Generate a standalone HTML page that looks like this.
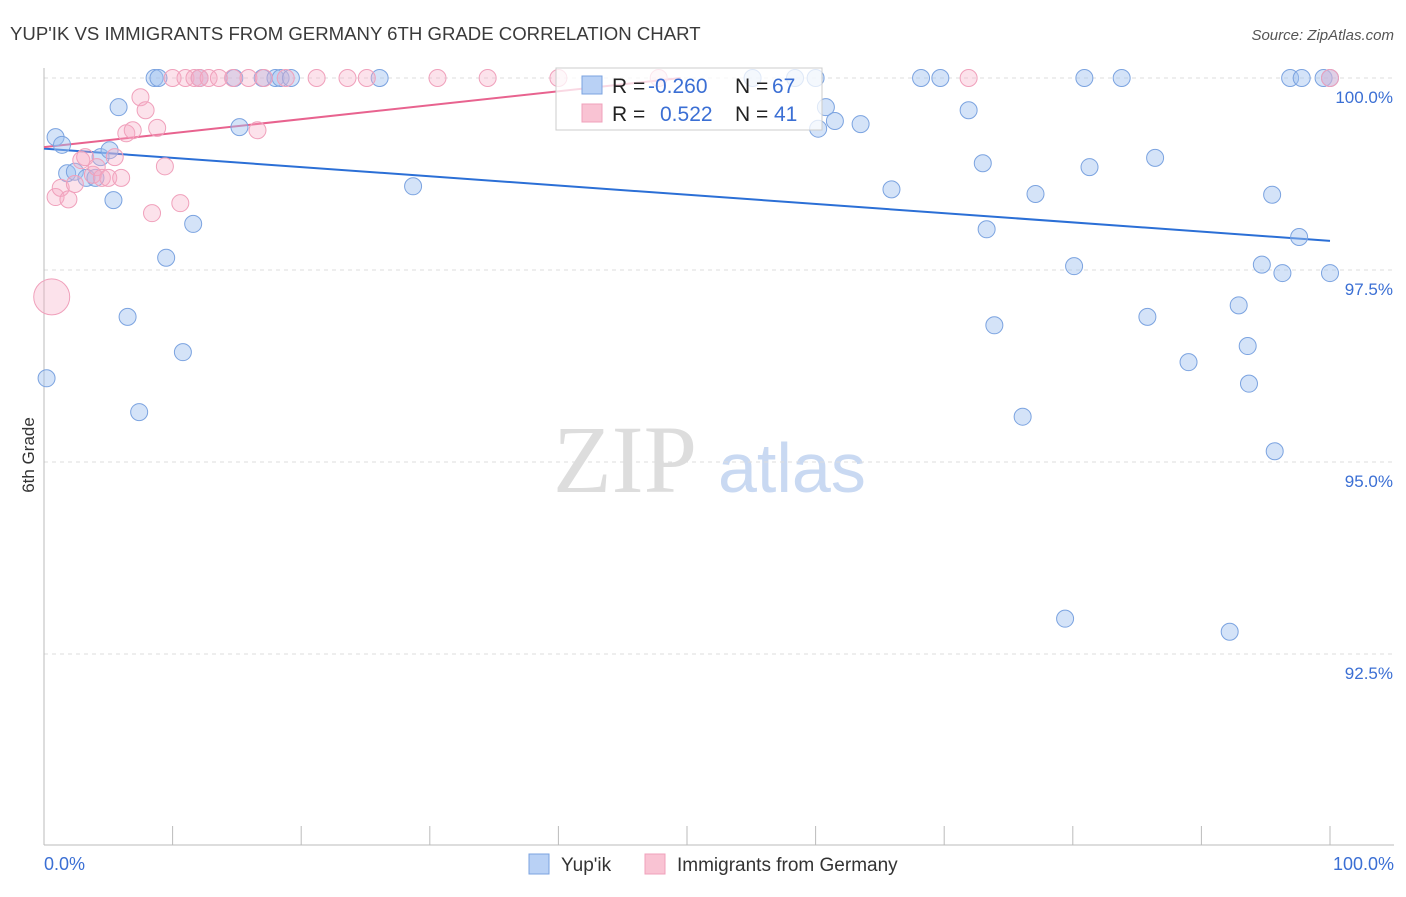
<!DOCTYPE html>
<html><head><meta charset="utf-8"><style>
body{margin:0;background:#fff;font-family:"Liberation Sans",sans-serif;}
svg text{font-family:"Liberation Sans",sans-serif;}
</style></head><body>
<svg id="chart" width="1406" height="892">
<text x="10" y="40" font-size="18.6" fill="#3a3a3a">YUP'IK VS IMMIGRANTS FROM GERMANY 6TH GRADE CORRELATION CHART</text>
<text x="1394" y="40" font-size="15" fill="#555" text-anchor="end" font-style="italic">Source: ZipAtlas.com</text>
<g>
<text x="553" y="492" font-size="96" fill="#ddd" style="font-family:'Liberation Serif',serif">ZIP</text>
<text x="718" y="492" font-size="70" fill="#c9d9f2">atlas</text>
</g>
<text x="34" y="455" font-size="17" fill="#333" text-anchor="middle" transform="rotate(-90 34 455)">6th Grade</text>
<g id="grid"></g><g id="axes"></g><g id="lines"></g><g id="dots"></g>
<g>
<rect x="556" y="68" width="266" height="62" fill="rgba(255,255,255,0.75)" stroke="#ccc"/>
<rect x="582" y="76" width="20" height="18" fill="#b9d1f5" stroke="#7ba3e0"/>
<rect x="582" y="104" width="20" height="18" fill="#f9c3d3" stroke="#f0a0bb"/>
<text x="612" y="93" font-size="21" fill="#222">R = <tspan x="648" fill="#3b6fd4">-0.260</tspan><tspan x="735">N = </tspan><tspan x="772" fill="#3b6fd4">67</tspan></text>
<text x="612" y="121" font-size="21" fill="#222">R = <tspan x="660" fill="#3b6fd4">0.522</tspan><tspan x="735">N = </tspan><tspan x="774" fill="#3b6fd4">41</tspan></text>
</g>
<g>
<rect x="529" y="854" width="20" height="20" fill="#b9d1f5" stroke="#7ba3e0"/>
<text x="561" y="871" font-size="19" fill="#333">Yup'ik</text>
<rect x="645" y="854" width="20" height="20" fill="#f9c3d3" stroke="#f0a0bb"/>
<text x="677" y="871" font-size="19" fill="#333">Immigrants from Germany</text>
</g>
</svg>
<script>
const yTicks=[100,97.5,95,92.5];
const yTickLabels=["100.0%","97.5%","95.0%","92.5%"];
const xTickVals=[0,10,20,30,40,50,60,70,80,90,100];
const blueX=[0.2,0.9,1.4,1.8,2.4,3.3,4.0,4.4,5.1,5.4,5.8,6.5,7.4,8.6,8.9,9.5,10.8,11.6,12.1,14.8,15.2,17.0,18.0,18.4,19.2,26.1,28.7,55.1,58.4,60.0,60.2,60.8,61.5,63.5,65.9,68.2,69.7,71.9,73.0,73.3,73.9,76.1,77.1,79.4,80.1,80.9,81.3,83.8,85.8,86.4,89.0,92.2,92.9,93.6,93.7,94.7,95.5,95.7,96.3,96.9,97.6,97.8,99.5,100,100];
const blueY=[96.09,99.23,99.13,98.76,98.78,98.70,98.70,98.97,99.06,98.41,99.62,96.89,95.65,100,100,97.66,96.43,98.10,100,100,99.36,100,100,100,100,100,98.59,100,100,100,99.34,99.62,99.44,99.40,98.55,100,100,99.58,98.89,98.03,96.78,95.59,98.49,92.96,97.55,100,98.84,100,96.89,98.96,96.30,92.79,97.04,96.51,96.02,97.57,98.48,95.14,97.46,100,97.93,100,100,97.46,100];
const pinkX=[0.6,0.9,1.3,1.9,2.4,2.9,3.2,3.8,4.1,4.5,5.0,5.5,6.0,6.4,6.9,7.5,7.9,8.4,8.8,9.4,10.0,10.6,11.0,11.7,12.1,12.8,13.6,14.7,15.9,16.6,17.1,18.8,21.2,23.6,25.1,30.6,34.5,40.0,47.8,71.9,100];
const pinkY=[97.15,98.45,98.57,98.42,98.62,98.93,98.97,98.74,98.84,98.70,98.70,98.97,98.70,99.28,99.32,99.75,99.58,98.24,99.35,98.85,100,98.37,100,100,100,100,100,100,100,99.32,100,100,100,100,100,100,100,100,100,100,100];
const pinkR=[18];
const blueTrend=[[0,99.08],[100,97.88]];
const pinkTrend=[[0,99.10],[49.5,100]];
const NS="http://www.w3.org/2000/svg";
const X=v=>44+v*12.86, Y=v=>78+(100-v)*76.8;
function mk(tag,attrs,parent){const e=document.createElementNS(NS,tag);for(const k in attrs)e.setAttribute(k,attrs[k]);document.getElementById(parent).appendChild(e);return e;}
yTicks.forEach((t,i)=>{
 const l=mk('line',{x1:44,x2:1394,y1:Y(t),y2:Y(t),stroke:'#ddd','stroke-dasharray':'4,4'},'grid');
 
 
 const tx=mk('text',{x:1393,y:Y(t)+25,'font-size':17,fill:'#3b6fd4','text-anchor':'end'},'grid');
 tx.textContent=yTickLabels[i];
 
 
});
const ax=mk('line',{x1:44,x2:1394,y1:845,y2:845,stroke:'#bbb'},'axes');


const ay=mk('line',{x1:44,x2:44,y1:68,y2:845,stroke:'#bbb'},'axes');


xTickVals.forEach(t=>{const l=mk('line',{x1:X(t),x2:X(t),y1:826,y2:845,stroke:'#bbb'},'axes');
 
 });
[["0.0%",44,'start'],["100.0%",1394,'end']].forEach(a=>{const t=mk('text',{x:a[1],y:870,'font-size':18,fill:'#3b6fd4','text-anchor':a[2]},'axes');t.textContent=a[0];
 
 });
blueX.forEach((v,i)=>{const c=mk('circle',{cx:X(v),cy:Y(blueY[i]),r:8.5,fill:'rgba(160,192,240,0.45)',stroke:'#7ba3e0','stroke-width':1},'dots');
 
 });
pinkX.forEach((v,i)=>{const c=mk('circle',{cx:X(v),cy:Y(pinkY[i]),r:pinkR[i]||8.5,fill:'rgba(246,172,198,0.35)',stroke:'#f0a0bb','stroke-width':1},'dots');
 
 });
const bl=mk('line',{x1:X(blueTrend[0][0]),y1:Y(blueTrend[0][1]),x2:X(blueTrend[1][0]),y2:Y(blueTrend[1][1]),stroke:'#2b6fd6','stroke-width':2},'lines');


const pl=mk('line',{x1:X(pinkTrend[0][0]),y1:Y(pinkTrend[0][1]),x2:X(pinkTrend[1][0]),y2:Y(pinkTrend[1][1]),stroke:'#e8638f','stroke-width':2},'lines');


</script>
</body></html>
